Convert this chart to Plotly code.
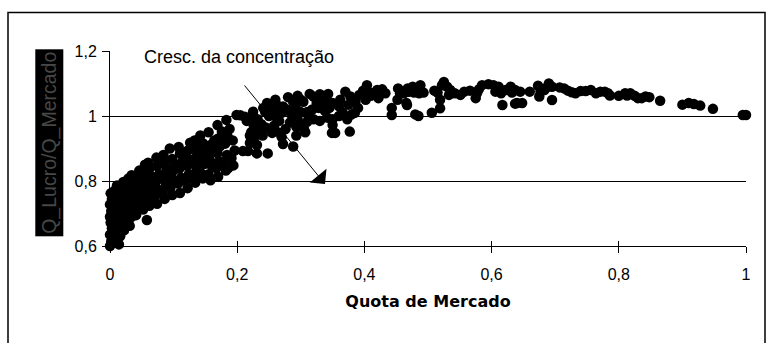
import plotly.graph_objects as go

# Market share (x) vs. profit-share / market-share ratio (y), grouped by share band
share_small = [0.000, 0.002, 0.000, 0.003, 0.001, 0.000, 0.002, 0.000, 0.003, 0.001,
               0.006, 0.008, 0.007, 0.009, 0.006, 0.008, 0.010, 0.007, 0.011,
               0.014, 0.016, 0.015, 0.017, 0.014, 0.018, 0.016, 0.019, 0.021,
               0.022, 0.024, 0.023, 0.026, 0.024, 0.027, 0.025, 0.029,
               0.031, 0.033, 0.032, 0.035, 0.034, 0.036, 0.034, 0.038,
               0.041, 0.043, 0.042, 0.045, 0.044, 0.047, 0.046,
               0.052, 0.054, 0.051, 0.056, 0.053, 0.057, 0.055, 0.058,
               0.004, 0.012, 0.020, 0.028, 0.037, 0.048, 0.010, 0.030]
ratio_small = [0.600, 0.615, 0.635, 0.655, 0.672, 0.690, 0.708, 0.728, 0.745, 0.762,
               0.592, 0.622, 0.645, 0.668, 0.688, 0.715, 0.738, 0.770, 0.786,
               0.605, 0.630, 0.662, 0.690, 0.712, 0.735, 0.752, 0.778, 0.797,
               0.648, 0.672, 0.700, 0.722, 0.748, 0.770, 0.790, 0.808,
               0.662, 0.688, 0.712, 0.735, 0.760, 0.782, 0.818, 0.800,
               0.695, 0.718, 0.742, 0.765, 0.788, 0.810, 0.832,
               0.712, 0.738, 0.760, 0.783, 0.805, 0.828, 0.850, 0.680,
               0.640, 0.656, 0.680, 0.700, 0.722, 0.748, 0.700, 0.770]

share_mid = [0.062, 0.065, 0.061, 0.064, 0.066, 0.062, 0.060,
             0.074, 0.071, 0.076, 0.073, 0.077, 0.074, 0.073,
             0.086, 0.083, 0.088, 0.085, 0.089, 0.086, 0.084,
             0.098, 0.095, 0.100, 0.097, 0.101, 0.098, 0.094,
             0.110, 0.107, 0.112, 0.109, 0.113, 0.110, 0.108,
             0.122, 0.119, 0.124, 0.121, 0.125, 0.122, 0.126,
             0.134, 0.131, 0.136, 0.133, 0.137, 0.134, 0.133,
             0.146, 0.143, 0.148, 0.145, 0.149, 0.146, 0.142,
             0.158, 0.155, 0.160, 0.157, 0.161, 0.158, 0.155,
             0.170, 0.167, 0.172, 0.169, 0.173, 0.170, 0.169,
             0.182, 0.179, 0.184, 0.181, 0.185, 0.183,
             0.194, 0.191, 0.196, 0.193, 0.199,
             0.068, 0.080, 0.092, 0.104, 0.116, 0.128, 0.140, 0.152, 0.164, 0.176, 0.188]
ratio_mid = [0.724, 0.747, 0.768, 0.793, 0.813, 0.838, 0.856,
             0.730, 0.754, 0.773, 0.800, 0.820, 0.846, 0.872,
             0.745, 0.763, 0.791, 0.810, 0.836, 0.857, 0.880,
             0.757, 0.779, 0.802, 0.824, 0.849, 0.868, 0.900,
             0.763, 0.792, 0.810, 0.838, 0.858, 0.885, 0.905,
             0.778, 0.801, 0.821, 0.847, 0.866, 0.893, 0.918,
             0.795, 0.811, 0.838, 0.856, 0.882, 0.901, 0.925,
             0.808, 0.824, 0.852, 0.870, 0.896, 0.916, 0.940,
             0.802, 0.821, 0.846, 0.865, 0.891, 0.911, 0.950,
             0.813, 0.840, 0.861, 0.886, 0.907, 0.931, 0.972,
             0.832, 0.854, 0.880, 0.915, 0.936, 0.988,
             0.848, 0.871, 0.894, 0.925, 1.003,
             0.782, 0.810, 0.825, 0.838, 0.872, 0.858, 0.862, 0.882, 0.925, 0.952, 0.960]

share_trans = [0.205, 0.212, 0.225, 0.241, 0.252, 0.262, 0.272, 0.288, 0.304, 0.314,
               0.330, 0.343, 0.247, 0.260, 0.280, 0.295, 0.250, 0.262, 0.270, 0.285,
               0.295, 0.300, 0.232, 0.238, 0.221, 0.226, 0.222, 0.226, 0.220, 0.236,
               0.240, 0.233, 0.209, 0.217, 0.231, 0.248, 0.186, 0.255, 0.270, 0.267,
               0.272, 0.288, 0.293, 0.293, 0.300, 0.305, 0.307, 0.220, 0.222, 0.231,
               0.310, 0.320, 0.330, 0.342, 0.350, 0.310, 0.318, 0.328, 0.338, 0.350,
               0.354, 0.349, 0.360, 0.366, 0.373, 0.380, 0.385, 0.377, 0.330, 0.340,
               0.350, 0.360, 0.362, 0.370, 0.378, 0.375, 0.386, 0.390, 0.320, 0.300,
               0.404, 0.406, 0.402, 0.420, 0.428, 0.422, 0.415, 0.443, 0.443, 0.453,
               0.456, 0.452, 0.468, 0.466,
               0.215, 0.244, 0.256, 0.266, 0.278, 0.283, 0.292, 0.258, 0.245, 0.276,
               0.312, 0.325, 0.336, 0.345, 0.392, 0.410, 0.433, 0.398]
ratio_trans = [1.002, 0.998, 1.013, 1.025, 1.030, 1.034, 1.029, 1.044, 1.044, 1.068,
               1.067, 1.068, 1.040, 1.050, 1.058, 1.062, 1.000, 0.995, 1.010, 1.005,
               0.990, 1.012, 0.990, 0.975, 0.995, 0.970, 0.950, 0.930, 0.917, 0.960,
               0.940, 0.945, 0.892, 0.892, 0.885, 0.885, 0.840, 0.948, 0.935, 0.948,
               0.914, 0.906, 0.940, 0.967, 0.975, 0.960, 0.950, 0.940, 0.926, 0.911,
               0.982, 0.990, 0.985, 0.995, 0.990, 1.012, 1.020, 1.025, 1.015, 0.972,
               0.948, 0.948, 1.000, 1.010, 0.990, 1.005, 1.010, 0.952, 1.045, 1.055,
               1.040, 1.030, 1.050, 1.075, 1.060, 1.035, 1.045, 1.025, 1.060, 1.050,
               1.095, 1.075, 1.050, 1.080, 1.082, 1.055, 1.070, 1.025, 1.003, 1.085,
               1.070, 1.050, 1.075, 1.040,
               0.985, 1.012, 1.020, 0.985, 1.020, 0.980, 1.025, 0.970, 0.965, 0.960,
               1.000, 1.040, 1.035, 1.025, 1.065, 1.062, 1.070, 1.078]

share_large = [0.456, 0.462, 0.470, 0.478, 0.486, 0.493, 0.468, 0.476, 0.488, 0.467,
               0.480, 0.485, 0.506, 0.510, 0.515, 0.525, 0.522, 0.530, 0.535, 0.533,
               0.542, 0.551, 0.557, 0.566, 0.577, 0.575, 0.580, 0.519, 0.519, 0.585,
               0.595, 0.603, 0.611, 0.606, 0.615, 0.622, 0.630, 0.632, 0.645, 0.617,
               0.637, 0.640, 0.648, 0.637, 0.660, 0.673, 0.677, 0.675, 0.683, 0.690,
               0.695, 0.687, 0.695, 0.707, 0.714, 0.720, 0.726, 0.732, 0.740, 0.748,
               0.756, 0.764, 0.771, 0.778, 0.783, 0.786, 0.800, 0.810, 0.813, 0.818,
               0.825, 0.830, 0.836, 0.842, 0.848, 0.865, 0.900, 0.910, 0.918, 0.928,
               0.948, 0.995, 1.000]
ratio_large = [1.078, 1.070, 1.075, 1.072, 1.070, 1.072, 1.085, 1.090, 1.095, 1.034,
               1.005, 1.000, 1.010, 1.078, 1.072, 1.105, 1.095, 1.090, 1.080, 1.065,
               1.070, 1.065, 1.075, 1.078, 1.070, 1.055, 1.082, 1.050, 1.024, 1.095,
               1.098, 1.095, 1.090, 1.075, 1.070, 1.080, 1.090, 1.072, 1.075, 1.034,
               1.038, 1.040, 1.040, 1.080, 1.075, 1.093, 1.075, 1.060, 1.080, 1.100,
               1.090, 1.088, 1.049, 1.088, 1.085, 1.078, 1.073, 1.070, 1.077, 1.077,
               1.080, 1.070, 1.075, 1.075, 1.070, 1.063, 1.062, 1.070, 1.063, 1.070,
               1.062, 1.055, 1.055, 1.060, 1.058, 1.047, 1.035, 1.040, 1.037, 1.032,
               1.022, 1.003, 1.003]

y_ticks = [0.6, 0.8, 1.0, 1.2]
x_ticks = [0, 0.2, 0.4, 0.6, 0.8, 1.0]

FONT = "Liberation Sans, Arial, sans-serif"

share = share_small + share_mid + share_trans + share_large
ratio = ratio_small + ratio_mid + ratio_trans + ratio_large

fig = go.Figure()
fig.add_trace(go.Scatter(
    x=share, y=ratio, mode="markers",
    marker=dict(size=10.5, color="black", line=dict(width=0)),
    cliponaxis=False, showlegend=False, hoverinfo="skip",
))
# helper trace so the overlaid axis (inner half of the crossing ticks) is drawn
fig.add_trace(go.Scatter(x=[], y=[], xaxis="x2", showlegend=False))

fig.update_layout(
    width=768, height=343,
    margin=dict(l=110, r=22, t=51, b=97),
    paper_bgcolor="white", plot_bgcolor="white",
    separators=",.",
    font=dict(family=FONT, size=16, color="black"),
    xaxis=dict(
        range=[0, 1], tickvals=x_ticks, showgrid=False, zeroline=False,
        showline=True, linecolor="black", linewidth=1,
        ticks="outside", ticklen=6, tickcolor="black", tickwidth=1,
        ticklabelstandoff=8,
        title=dict(text="<b>Quota de Mercado</b>",
                   font=dict(family="DejaVu Sans, sans-serif", size=16), standoff=13),
    ),
    xaxis2=dict(
        range=[0, 1], tickvals=x_ticks, overlaying="x", side="bottom",
        showgrid=False, zeroline=False, showline=False, showticklabels=False,
        ticks="inside", ticklen=5, tickcolor="black", tickwidth=1,
    ),
    yaxis=dict(
        range=[0.6, 1.2], tickvals=y_ticks, showgrid=True, gridcolor="black",
        gridwidth=1, zeroline=False, showline=True, linecolor="black", linewidth=1,
        ticks="outside", ticklen=7, tickcolor="black", tickwidth=1,
        ticklabelstandoff=2,
    ),
    annotations=[
        dict(text="Cresc. da concentração", xref="x", yref="y",
             x=0.050, y=1.183, xanchor="left", yanchor="middle", showarrow=False,
             font=dict(family=FONT, size=18, color="black")),
        dict(x=0.338, y=0.791, ax=0.2096, ay=1.0985, xref="x", yref="y",
             axref="x", ayref="y", text="", showarrow=True,
             arrowhead=1, arrowsize=3.6, arrowwidth=1, arrowcolor="black"),
        dict(text="Q_Lucro/Q_Mercado", xref="paper", yref="paper",
             x=(48.8 - 110) / 636, y=(246 - 143) / 195, textangle=-90,
             xanchor="center", yanchor="middle",
             showarrow=False, bgcolor="black", borderpad=2,
             font=dict(family=FONT, size=19.5, color="#474747")),
    ],
    shapes=[
        dict(type="rect", xref="paper", yref="paper",
             x0=(8 - 110) / 636, x1=(765 - 110) / 636,
             y0=(246 - 350) / 195, y1=(246 - 12.5) / 195,
             line=dict(color="black", width=1.5), layer="below"),
    ],
)

fig.write_html("out.html")
